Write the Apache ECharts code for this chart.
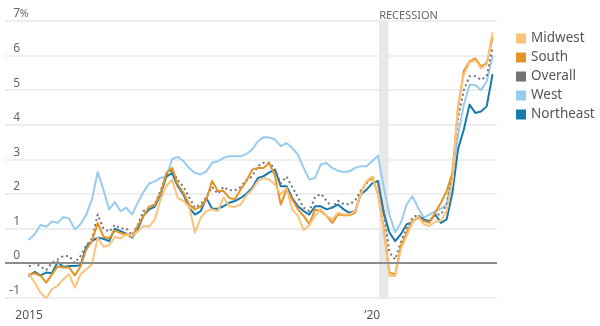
<!DOCTYPE html>
<html>
<head>
<meta charset="utf-8">
<script src="https://cdn.jsdelivr.net/npm/echarts@6/dist/echarts.min.js"></script>
<style>
  html, body { margin: 0; padding: 0; background: #fff; }
  #chart { width: 600px; height: 326px; }
</style>
</head>
<body>
<div id="chart"></div>
<script>
// Consumer prices, % change from a year earlier, by region — monthly, Jan 2015 to Oct 2021.
// x values are month indexes counted from Jan 2015.
const firstYear = 2015;
const monthCount = 82;

const midwest = [
  -0.33, -0.57, -0.86, -1.03, -0.76, -0.66, -0.47, -0.33, -0.71, -0.33, -0.18, -0.04,
  0.73, 0.47, 0.51, 0.75, 0.71, 0.83, 0.78, 0.92, 1.07, 1.05, 1.26, 1.84,
  2.22, 2.41, 1.88, 1.79, 1.62, 0.88, 1.30, 1.50, 1.55, 1.50, 1.90, 1.64,
  1.62, 1.69, 1.95, 2.12, 2.37, 2.46, 2.41, 2.27, 1.98, 2.17, 1.55, 1.36,
  0.95, 1.10, 1.36, 1.55, 1.36, 1.26, 1.45, 1.40, 1.40, 1.50, 1.98, 2.37,
  2.50, 2.00, 0.95, -0.38, -0.38, 0.39, 0.78, 1.16, 1.36, 1.12, 1.07, 1.20,
  1.22, 1.50, 2.35, 4.60, 5.45, 5.80, 5.87, 5.63, 5.75, 6.65
];

const south = [
  -0.33, -0.30, -0.37, -0.57, -0.33, -0.10, -0.13, -0.13, -0.36, -0.10, 0.39, 0.63,
  1.16, 0.76, 0.71, 0.94, 0.86, 0.83, 0.76, 1.07, 1.36, 1.63, 1.69, 2.03,
  2.60, 2.75, 2.27, 2.03, 1.69, 1.55, 1.63, 1.84, 2.37, 2.08, 2.08, 1.88,
  1.84, 2.13, 2.37, 2.70, 2.75, 2.75, 2.89, 2.51, 1.69, 2.12, 1.84, 1.55,
  1.36, 1.12, 1.55, 1.50, 1.36, 1.16, 1.40, 1.38, 1.38, 1.45, 2.03, 2.35,
  2.45, 2.00, 1.00, -0.28, -0.33, 0.49, 0.88, 1.21, 1.31, 1.21, 1.16, 1.45,
  1.74, 2.08, 2.60, 4.50, 5.55, 5.83, 5.92, 5.68, 5.78, 6.50
];

const overall = [
  -0.1, 0.0, -0.1, -0.2, 0.0, 0.1, 0.2, 0.2, 0.0, 0.2, 0.5, 0.7,
  1.4, 1.0, 0.9, 1.1, 1.0, 1.0, 0.8, 1.1, 1.5, 1.6, 1.7, 2.1,
  2.5, 2.7, 2.4, 2.2, 1.9, 1.6, 1.7, 1.9, 2.2, 2.0, 2.2, 2.1,
  2.1, 2.2, 2.4, 2.5, 2.8, 2.9, 2.9, 2.7, 2.3, 2.5, 2.2, 1.9,
  1.6, 1.5, 1.9, 2.0, 1.8, 1.6, 1.8, 1.7, 1.7, 1.8, 2.1, 2.3,
  2.5, 2.3, 1.5, 0.3, 0.1, 0.6, 1.0, 1.3, 1.4, 1.2, 1.2, 1.4,
  1.4, 1.7, 2.6, 4.2, 5.0, 5.4, 5.4, 5.3, 5.4, 6.2
];

const west = [
  0.68, 0.83, 1.10, 1.05, 1.20, 1.16, 1.33, 1.29, 0.97, 1.12, 1.40, 1.84,
  2.63, 2.12, 1.55, 1.76, 1.50, 1.60, 1.40, 1.74, 2.05, 2.30, 2.36, 2.46,
  2.50, 3.00, 3.07, 2.94, 2.75, 2.60, 2.56, 2.65, 2.90, 2.94, 3.04, 3.09,
  3.09, 3.09, 3.15, 3.28, 3.52, 3.64, 3.63, 3.57, 3.38, 3.47, 3.33, 3.13,
  2.75, 2.41, 2.46, 2.85, 2.89, 2.75, 2.67, 2.63, 2.65, 2.75, 2.80, 2.80,
  2.95, 3.10, 2.20, 1.40, 0.88, 1.16, 1.69, 1.93, 1.60, 1.31, 1.40, 1.50,
  1.57, 1.70, 2.60, 3.70, 4.58, 5.15, 5.15, 5.00, 5.25, 5.97
];

const northeast = [
  -0.37, -0.26, -0.36, -0.28, -0.30, 0.03, -0.12, -0.09, -0.09, -0.07, 0.47, 0.63,
  0.73, 0.70, 0.63, 0.99, 0.92, 0.85, 0.73, 0.97, 1.36, 1.55, 1.63, 1.98,
  2.50, 2.60, 2.22, 1.98, 1.60, 1.40, 1.50, 1.88, 1.57, 1.57, 1.64, 1.74,
  1.79, 1.88, 2.00, 2.17, 2.46, 2.51, 2.62, 2.70, 2.22, 2.22, 1.88, 1.64,
  1.50, 1.40, 1.64, 1.64, 1.55, 1.60, 1.69, 1.55, 1.45, 1.50, 1.98, 2.12,
  2.30, 2.37, 1.45, 0.88, 0.63, 0.83, 1.12, 1.16, 1.36, 1.26, 1.21, 1.40,
  1.16, 1.26, 2.03, 3.30, 3.86, 4.58, 4.34, 4.38, 4.53, 5.44
];

// Recession span (Feb–Apr 2020) in month indexes.
const recession = [61.2, 62.8];
const recessionLabel = 'RECESSION';

// Axis ticks and labels.
const yTicks = [-1, 0, 1, 2, 3, 4, 5, 6, 7];
const xTickMonths = [0, 12, 24, 36, 48, 60, 72];
const xLabelMonths = [0, 60];
const xLabelTexts = ['2015', '\u201920'];

const legendOrder = ['Midwest', 'South', 'Overall', 'West', 'Northeast'];

const colors = {
  Midwest: '#fbc27c',
  South: '#e59324',
  Overall: '#737373',
  West: '#98cbee',
  Northeast: '#167aaf'
};

const FONT = '"Noto Sans", "Open Sans", sans-serif';

function toPoints(values) {
  return values.map((v, i) => [i, v]);
}

function lineSeries(name, values, extraLine) {
  return {
    name: name,
    type: 'line',
    data: toPoints(values),
    symbol: 'none',
    silent: true,
    lineStyle: Object.assign({ color: colors[name], width: 2, join: 'round', cap: 'round' }, extraLine || {}),
    itemStyle: { color: colors[name] },
    emphasis: { disabled: true },
    z: 3
  };
}

// Year tick marks: thin strips from the bottom gridline down, whose upper half is
// transparent so the visible tick hangs a few pixels below the line.
const tickTop = -0.999;
const tickBottom = -1.23;
const tickHalfWidth = 0.09;
const yearTicks = xTickMonths.map(function (m) {
  return [
    { xAxis: m - tickHalfWidth, yAxis: tickTop },
    { xAxis: m + tickHalfWidth, yAxis: tickBottom }
  ];
});
const tickFill = {
  type: 'linear', x: 0, y: 0, x2: 0, y2: 1,
  colorStops: [
    { offset: 0, color: 'rgba(102,102,102,0)' },
    { offset: 0.5, color: 'rgba(102,102,102,0)' },
    { offset: 0.5, color: '#666' },
    { offset: 1, color: '#666' }
  ]
};

const chart = echarts.init(document.getElementById('chart'), null, { renderer: 'canvas' });

chart.setOption({
  animation: false,
  backgroundColor: '#ffffff',
  textStyle: { fontFamily: FONT },
  grid: { left: 5, right: 103, top: 21, bottom: 28.5, containLabel: false },
  legend: {
    data: legendOrder,
    orient: 'vertical',
    left: 511,
    top: 24,
    icon: 'rect',
    itemWidth: 10,
    itemHeight: 10,
    itemGap: 0,
    selectedMode: false,
    itemStyle: { borderWidth: 0 },
    textStyle: { fontFamily: FONT, fontSize: 13.5, color: '#555', lineHeight: 19 }
  },
  xAxis: {
    type: 'value',
    min: -4.2,
    max: 81.8,
    offset: 4,
    axisLine: { show: false },
    splitLine: { show: false },
    axisTick: { show: false },
    axisLabel: {
      customValues: xLabelMonths,
      margin: 8,
      fontFamily: FONT,
      fontSize: 12,
      color: '#555',
      formatter: function (v) {
        const k = xLabelMonths.indexOf(Math.round(v));
        return k >= 0 ? xLabelTexts[k] : '';
      }
    }
  },
  yAxis: {
    type: 'value',
    min: yTicks[0],
    max: yTicks[yTicks.length - 1],
    interval: 1,
    axisLine: { show: false },
    axisTick: { show: false },
    splitLine: { show: true, lineStyle: { color: '#e9e9e9', width: 1.5 } },
    axisLabel: {
      inside: true,
      margin: 23,
      align: 'right',
      verticalAlign: 'bottom',
      padding: [0, 0, 1, 0],
      // the number ends at a fixed x; the "%" on the top label hangs to its right
      formatter: function (v) {
        return '{n|' + v + '}{p|' + (v === yTicks[yTicks.length - 1] ? '%' : ' ') + '}';
      },
      rich: {
        n: { fontFamily: FONT, fontSize: 12, color: '#666' },
        p: { fontFamily: FONT, fontSize: 10.5, color: '#666', width: 8, align: 'left' }
      }
    }
  },
  series: [
    {
      name: 'guides',
      type: 'line',
      data: [],
      silent: true,
      clip: false,
      z: 1,
      markArea: {
        silent: true,
        itemStyle: { color: '#e8e8e8' },
        label: {
          show: true,
          position: [0, -11],
          formatter: recessionLabel,
          fontFamily: FONT,
          fontSize: 11,
          color: '#666',
          align: 'left',
          verticalAlign: 'top'
        },
        data: [[{ xAxis: recession[0], yAxis: 7 }, { xAxis: recession[1], yAxis: -1.08 }]]
      },
      markLine: {
        silent: true,
        symbol: ['none', 'none'],
        label: { show: false },
        lineStyle: { color: '#8c8c8c', width: 2, type: 'solid' },
        data: [{ yAxis: 0 }]
      }
    },
    {
      name: 'yearTicks',
      type: 'line',
      data: [],
      silent: true,
      clip: false,
      z: 1,
      markArea: {
        silent: true,
        label: { show: false },
        itemStyle: { color: tickFill },
        data: yearTicks
      }
    },
    lineSeries('West', west),
    lineSeries('Northeast', northeast),
    lineSeries('Overall', overall, { type: [2, 3], width: 2, cap: 'butt' }),
    lineSeries('South', south),
    lineSeries('Midwest', midwest)
  ]
});
</script>
</body>
</html>
